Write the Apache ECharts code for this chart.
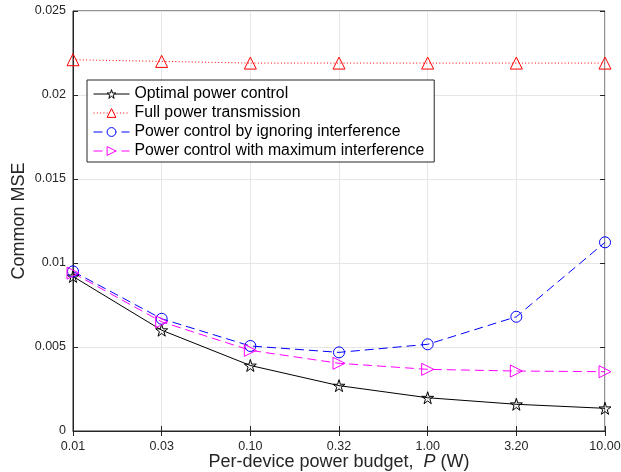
<!DOCTYPE html>
<html>
<head>
<meta charset="utf-8">
<script src="https://cdn.jsdelivr.net/npm/echarts@6/dist/echarts.min.js"></script>
<style>
  html, body { margin: 0; padding: 0; background: #fff; }
  #chart { width: 621px; height: 472px; }
</style>
</head>
<body>
<div id="chart"></div>
<script>
// x categories: per-device power budget P (W)
const powerBudget = ['0.01', '0.03', '0.10', '0.32', '1.00', '3.20', '10.00']
const optimalMse = [0.0092, 0.0060, 0.0039, 0.0027, 0.00198, 0.00159, 0.00135]
const fullPowerMse = [0.0221, 0.0220, 0.0219, 0.0219, 0.0219, 0.0219, 0.0219]
const ignoreInterfMse = [0.0095, 0.00668, 0.00506, 0.00468, 0.00516, 0.0068, 0.01123]
const maxInterfMse = [0.0094, 0.0065, 0.0048, 0.00403, 0.00367, 0.00357, 0.00353]
const seriesNames = [
  'Optimal power control',
  'Full power transmission',
  'Power control by ignoring interference',
  'Power control with maximum interference'
]
const seriesColors = ['#000000', '#ff0000', '#0000ff', '#ff00ff']

const axisColor = '#262626'
const gridColor = '#e6e6e6'
const font = 'Liberation Sans, Arial, Helvetica, sans-serif'
const star = 'path://M50,0 L61,35 L98,35 L68,57 L79,91 L50,70 L21,91 L32,57 L2,35 L39,35 Z'

const chart = echarts.init(document.getElementById('chart'))

function mk(i, data, dash, symbol, size, rotate) {
  const color = seriesColors[i]
  return {
    name: seriesNames[i],
    type: 'line',
    data: data,
    symbol: symbol,
    symbolSize: size,
    symbolRotate: rotate || 0,
    showAllSymbol: true,
    lineStyle: { color: color, width: 1, type: dash },
    itemStyle: { color: 'rgba(255,255,255,0)', borderColor: color, borderWidth: 1 },
    emphasis: { disabled: true },
    animation: false
  }
}

chart.setOption({
  backgroundColor: '#ffffff',
  textStyle: { fontFamily: font },
  grid: {
    left: 73,
    right: 16,
    top: 11,
    bottom: 41,
    outerBoundsMode: 'none',
    containLabel: false,
    show: true,
    borderColor: axisColor,
    borderWidth: 1
  },
  legend: {
    orient: 'vertical',
    left: 87,
    top: 80,
    backgroundColor: '#ffffff',
    borderColor: axisColor,
    borderWidth: 1,
    padding: [6, 10, 3, 6],
    itemGap: 3,
    itemWidth: 36,
    itemHeight: 11,
    lineStyle: { width: 1 },
    textStyle: { fontSize: 15.8, color: '#000', fontFamily: font },
    data: seriesNames.map(function (n, i) {
      return {
        name: n,
        itemStyle: { color: '#ffffff', borderColor: seriesColors[i], borderWidth: 1 }
      }
    })
  },
  xAxis: [{
    type: 'category',
    data: powerBudget,
    boundaryGap: false,
    axisLine: { lineStyle: { color: axisColor } },
    axisTick: { inside: true, length: 5, lineStyle: { color: axisColor } },
    axisLabel: { color: axisColor, fontSize: 12.5, margin: 9 },
    splitLine: { show: true, lineStyle: { color: gridColor } },
    name: '{a|Per-device power budget,  }{b|P}{a| (W)}',
    nameLocation: 'middle',
    nameMoveOverlap: false,
    nameGap: 22,
    nameTextStyle: {
      rich: {
        a: { fontSize: 18, color: axisColor, fontFamily: font },
        b: { fontSize: 18, color: axisColor, fontFamily: font, fontStyle: 'italic' }
      }
    }
  }, {
    type: 'category',
    data: powerBudget,
    position: 'top',
    boundaryGap: false,
    axisLine: { show: false },
    axisTick: { inside: true, length: 5, lineStyle: { color: axisColor } },
    axisLabel: { show: false },
    splitLine: { show: false }
  }],
  yAxis: [{
    type: 'value',
    min: 0,
    max: 0.025,
    interval: 0.005,
    axisLine: { show: true, lineStyle: { color: axisColor } },
    axisTick: { show: true, inside: true, length: 5, lineStyle: { color: axisColor } },
    axisLabel: {
      color: axisColor,
      fontSize: 12.5,
      margin: 7,
      formatter: function (v) { return String(parseFloat(v.toFixed(3))) }
    },
    splitLine: { show: true, lineStyle: { color: gridColor } },
    name: 'Common MSE',
    nameLocation: 'middle',
    nameMoveOverlap: false,
    nameGap: 45,
    nameTextStyle: { fontSize: 18, color: axisColor }
  }, {
    type: 'value',
    min: 0,
    max: 0.025,
    interval: 0.005,
    position: 'right',
    axisLine: { show: false },
    axisTick: { show: true, inside: true, length: 5, lineStyle: { color: axisColor } },
    axisLabel: { show: false },
    splitLine: { show: false }
  }],
  series: [
    mk(0, optimalMse, 'solid', star, 12),
    mk(1, fullPowerMse, [1, 2.3], 'triangle', 12),
    mk(2, ignoreInterfMse, [9, 5], 'circle', 11),
    mk(3, maxInterfMse, [9, 5], 'triangle', 12, -90)
  ]
})
</script>
</body>
</html>
